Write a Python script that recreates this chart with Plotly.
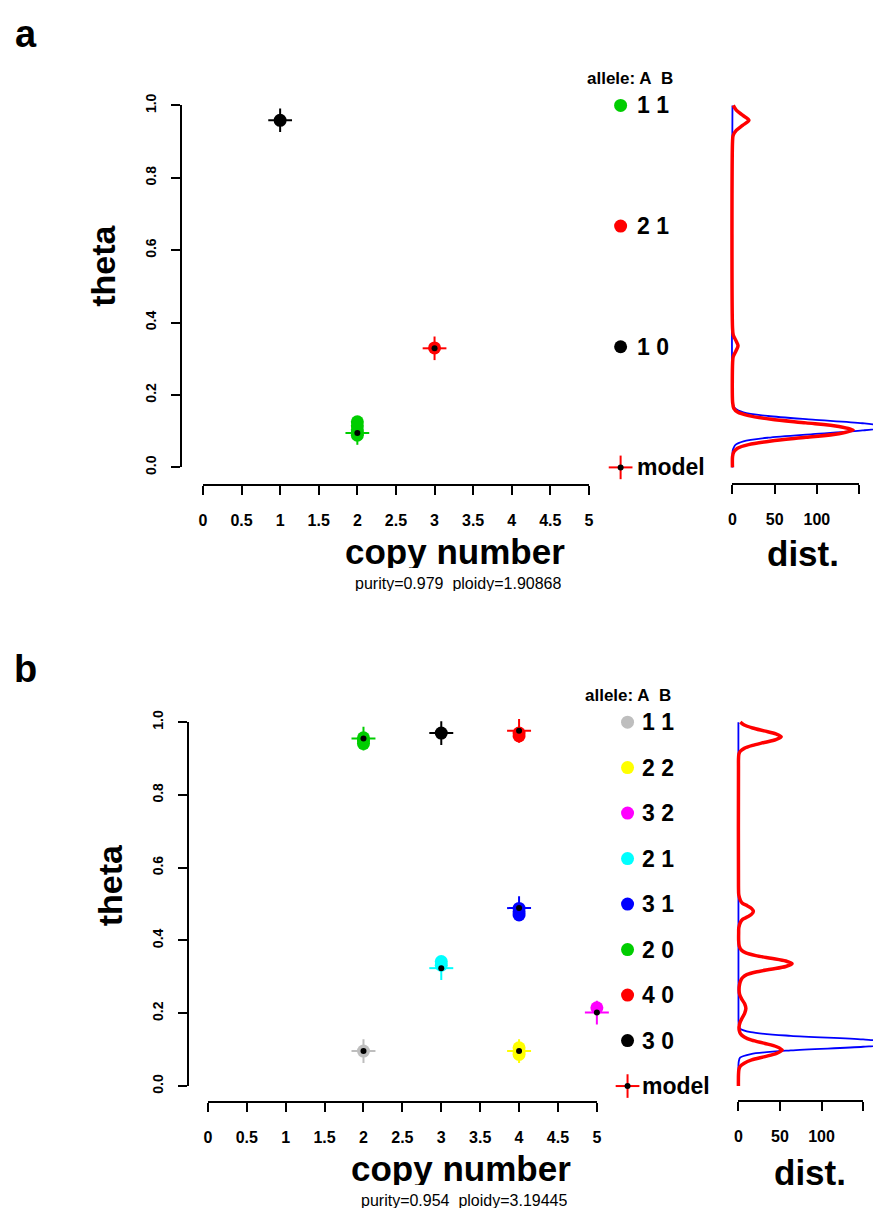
import numpy as np
import plotly.graph_objects as go

W, H = 878, 1217
FONT = "Liberation Sans, Arial, Helvetica, sans-serif"

# ---------------- shared tick labels ----------------
cn_ticks = [0, 0.5, 1, 1.5, 2, 2.5, 3, 3.5, 4, 4.5, 5]
cn_ticktext = ["0", "0.5", "1", "1.5", "2", "2.5", "3", "3.5", "4", "4.5", "5"]
theta_ticks = [0, 0.2, 0.4, 0.6, 0.8, 1.0]
theta_ticktext = ["0.0", "0.2", "0.4", "0.6", "0.8", "1.0"]
dist_ticks = [0, 50, 100, 150]
dist_ticktext = ["0", "50", "100", ""]

# ---------------- panel a data ----------------
a_alleles = ["1 1", "2 1", "1 0"]
a_colors = ["#00CD00", "#FF0000", "#000000"]
a_obs_cn = [2, 3, 1]
a_obs_theta = [[0.126, 0.115, 0.104, 0.095, 0.089], [0.330], [0.959]]
a_model_cn = [2, 3, 1]
a_model_theta = [0.095, 0.329, 0.959]
a_purity = "0.979"
a_ploidy = "1.90868"

a_obs_dist_theta = [0.000, 0.030, 0.043, 0.053, 0.063, 0.073, 0.083, 0.093, 0.103, 0.113,
                    0.123, 0.133, 0.143, 0.153, 0.163, 0.180, 0.290, 0.306, 0.321, 0.336,
                    0.351, 0.366, 0.385, 0.900, 0.917, 0.931, 0.945, 0.959, 0.973, 0.987, 1.000]
a_obs_dist_val = [0, 0.1, 1.6, 6, 19, 46, 87, 126, 143, 126,
                  87, 46, 19, 6, 1.6, 0.2, 0.2, 0.9, 4, 6.6,
                  4, 0.9, 0.1, 0.1, 0.8, 4.5, 12, 19.5, 12, 4.5, 0.9]
a_mod_dist_theta = [0.000, 0.045, 0.052, 0.062, 0.072, 0.082, 0.092, 0.102, 0.112, 0.122,
                    0.132, 0.142, 0.152, 0.162, 0.172, 0.190, 1.000]
a_mod_dist_val = [0, 0.2, 1, 3.5, 13, 42, 95, 154, 185, 154,
                  95, 42, 13, 3.5, 1, 0.1, 0]

# ---------------- panel b data ----------------
b_alleles = ["1 1", "2 2", "3 2", "2 1", "3 1", "2 0", "4 0", "3 0"]
b_colors = ["#BEBEBE", "#FFFF00", "#FF00FF", "#00FFFF", "#0000FF", "#00CD00", "#FF0000", "#000000"]
b_obs_cn = [2, 4, 5, 3, 4, 2, 4, 3]
b_obs_theta = [[0.096], [0.105, 0.095, 0.087], [0.215], [0.342, 0.332],
               [0.488, 0.479, 0.470], [0.957, 0.948, 0.941], [0.970, 0.962], [0.970]]
b_model_cn = [2, 4, 5, 3, 4, 2, 4, 3]
b_model_theta = [0.096, 0.096, 0.202, 0.324, 0.489, 0.955, 0.976, 0.970]
b_purity = "0.954"
b_ploidy = "3.19445"

b_obs_dist_theta = [0.000, 0.030, 0.045, 0.054, 0.063, 0.072, 0.081, 0.090, 0.099, 0.108,
                    0.117, 0.126, 0.135, 0.144, 0.153, 0.163, 0.175, 0.187, 0.200, 0.213,
                    0.226, 0.239, 0.252, 0.265, 0.280, 0.291, 0.298, 0.306, 0.3135, 0.321,
                    0.3285, 0.336, 0.3435, 0.351, 0.3585, 0.366, 0.374, 0.385, 0.400, 0.420,
                    0.435, 0.450, 0.458, 0.465, 0.4725, 0.480, 0.4875, 0.495, 0.502, 0.510,
                    0.525, 0.550, 0.880, 0.896, 0.912, 0.920, 0.928, 0.936, 0.944, 0.952,
                    0.960, 0.968, 0.976, 0.984, 0.992, 1.000]
b_obs_dist_val = [0, 0.1, 0.6, 2, 7, 16, 32, 46, 52.7, 46,
                  32, 16, 7, 2.5, 1, 0.8, 2, 4.5, 7.5, 9,
                  7.5, 4, 1.5, 0.8, 1.5, 3, 5, 10, 21, 39,
                  57, 64.6, 57, 39, 21, 9, 3.5, 1, 0.3, 0.3,
                  0.5, 2.5, 5, 11, 16, 18, 16, 11, 5, 2.5,
                  0.5, 0.1, 0.1, 0.1, 0.6, 2.3, 7, 17, 31, 45,
                  51.5, 45, 31, 17, 7, 2.3]
b_mod_dist_theta = [0.000, 0.060, 0.068, 0.078, 0.088, 0.098, 0.108, 0.118, 0.128, 0.138,
                    0.148, 0.158, 0.168, 0.180, 1.000]
b_mod_dist_val = [0, 0.1, 0.5, 2, 15, 63, 150, 200, 150, 63,
                  15, 2, 0.5, 0.1, 0]

# model error-bar half-widths (copy number, theta)
model_dcn = 0.154
model_dtheta = 0.0326

BOLD = dict(family=FONT, color="black", weight="bold")


def px_x(p):
    return p / W


def px_y(p):
    return 1 - p / H


def rng(p_lo, p_hi, v_lo, v_hi, q_lo, q_hi):
    s = (v_hi - v_lo) / (p_hi - p_lo)
    return [v_lo + (q_lo - p_lo) * s, v_lo + (q_hi - p_lo) * s]


fig = go.Figure()
annotations = []
layout_axes = {}


def tick_axis(**kw):
    d = dict(showline=True, linecolor="black", linewidth=1.8, ticks="outside",
             ticklen=9, tickwidth=1.8, tickcolor="black", showgrid=False,
             zeroline=False, anchor="free", fixedrange=True)
    d.update(kw)
    return d


def hidden_axis(**kw):
    d = dict(visible=False, showgrid=False, zeroline=False, fixedrange=True)
    d.update(kw)
    return d


def ann(x, y, text, font, xref="paper", yref="paper", xanchor="center", **kw):
    d = dict(x=x, y=y, xref=xref, yref=yref, text=text, showarrow=False,
             xanchor=xanchor, yanchor="middle", font=font)
    d.update(kw)
    annotations.append(d)


# pixel overlay axes (shared by both legends)
PX, PY = "x9", "y5"
layout_axes["xaxis9"] = hidden_axis(domain=[0, 1], range=[0, W], anchor="y5")
layout_axes["yaxis5"] = hidden_axis(domain=[0, 1], range=[H, 0], anchor="x9")


def panel(g, ax, alleles, colors, obs_cn, obs_theta, mod_cn, mod_theta,
          od_t, od_v, md_t, md_v, purity, ploidy):
    xd, yd, xdist, xt, yt, xdt = ax
    L, R = g["x_px"]          # pixel of copy number 0 and 5
    T, B = g["y_px"]          # pixel of theta 1 and 0
    D0, D1 = g["d_px"]        # pixel of dist 0 and 150
    # ---- axes
    qx = (L - 22, R + 22)
    qy = (T - 22, B + 22)
    layout_axes["xaxis" + xd[1:]] = hidden_axis(
        domain=[px_x(qx[0]), px_x(qx[1])], range=rng(L, R, 0, 5, qx[0], qx[1]), anchor=yd)
    layout_axes["yaxis" + yd[1:]] = hidden_axis(
        domain=[px_y(qy[1]), px_y(qy[0])], range=rng(B, T, 0, 1, qy[1], qy[0]), anchor=xd)
    qd = (D0 - 16, W)
    layout_axes["xaxis" + xdist[1:]] = hidden_axis(
        domain=[px_x(qd[0]), px_x(qd[1])], range=rng(D0, D1, 0, 150, qd[0], qd[1]), anchor=yd)
    layout_axes["xaxis" + xt[1:]] = tick_axis(
        domain=[px_x(L), px_x(R)], range=[0, 5], position=px_y(g["xline"]),
        tickvals=cn_ticks, ticktext=cn_ticktext, tickfont=dict(BOLD, size=16),
        ticklabelstandoff=12)
    layout_axes["yaxis" + yt[1:]] = tick_axis(
        domain=[px_y(B), px_y(T)], range=[0, 1], position=px_x(g["yline"]),
        tickvals=theta_ticks, ticktext=theta_ticktext, tickfont=dict(BOLD, size=14),
        tickangle=-90, ticklabelstandoff=10)
    layout_axes["xaxis" + xdt[1:]] = tick_axis(
        domain=[px_x(D0), px_x(D1)], range=[0, 150], position=px_y(g["dline"]),
        tickvals=dist_ticks, ticktext=dist_ticktext, tickfont=dict(BOLD, size=16),
        ticklabelstandoff=12)
    # empty traces so the tick axes get drawn
    fig.add_trace(go.Scatter(x=[], y=[], xaxis=xt, yaxis=yt, showlegend=False))
    fig.add_trace(go.Scatter(x=[], y=[], xaxis=xdt, yaxis=yt, showlegend=False))

    # ---- density curves
    fig.add_trace(go.Scatter(x=md_v, y=md_t, mode="lines", xaxis=xdist, yaxis=yd,
                             line=dict(color="#0000FF", width=1.8, shape="spline", smoothing=0.8),
                             showlegend=False, hoverinfo="skip"))
    fig.add_trace(go.Scatter(x=od_v, y=od_t, mode="lines", xaxis=xdist, yaxis=yd,
                             line=dict(color="#FF0000", width=3.5, shape="spline", smoothing=0.8),
                             showlegend=False, hoverinfo="skip"))
    # ---- observed points
    for cn, th, col in zip(obs_cn, obs_theta, colors):
        fig.add_trace(go.Scatter(x=[cn] * len(th), y=th, mode="markers", xaxis=xd, yaxis=yd,
                                 marker=dict(color=col, size=13, line=dict(width=0)),
                                 showlegend=False))
    # ---- model crosses
    for cn, th, col in zip(mod_cn, mod_theta, colors):
        fig.add_trace(go.Scatter(x=[cn], y=[th], mode="markers", xaxis=xd, yaxis=yd,
                                 marker=dict(color="black", size=6),
                                 error_x=dict(type="constant", value=model_dcn, color=col,
                                              thickness=2, width=0),
                                 error_y=dict(type="constant", value=model_dtheta, color=col,
                                              thickness=2, width=0),
                                 showlegend=False))
    # ---- legend (drawn in pixel overlay axes, rows aligned with theta grid)
    n = len(alleles) + 1
    rows = [T + (1 - p) * (B - T) for p in np.linspace(1, 0, n)]
    lx = g["leg_x"]
    fig.add_trace(go.Scatter(x=[lx] * len(alleles), y=rows[:-1], mode="markers",
                             xaxis=PX, yaxis=PY,
                             marker=dict(color=colors, size=13, line=dict(width=0)),
                             showlegend=False))
    fig.add_trace(go.Scatter(x=[lx], y=[rows[-1]], mode="markers", xaxis=PX, yaxis=PY,
                             marker=dict(color="black", size=6),
                             error_x=dict(type="constant", value=12, color="#FF0000",
                                          thickness=2, width=0),
                             error_y=dict(type="constant", value=12, color="#FF0000",
                                          thickness=2, width=0),
                             showlegend=False))
    for lab, yy in zip(alleles + ["model"], rows):
        ann(g["leg_tx"], yy, lab, dict(BOLD, size=23), xref=PX, yref=PY, xanchor="left")
    ann(px_x(g["hdr"][0]), px_y(g["hdr"][1]), "allele: A\u00a0 B", dict(BOLD, size=17))
    # ---- titles
    ann(px_x(g["letter"][0]), px_y(g["letter"][1]), g["name"], dict(BOLD, size=38))
    ann(px_x(g["ylab"][0]), px_y(g["ylab"][1]), "theta", dict(BOLD, size=34), textangle=-90)
    ann(px_x(g["xlab"][0]), px_y(g["xlab"][1]), "copy number", dict(BOLD, size=35),
        height=34, valign="middle")
    ann(px_x(g["sub"][0]), px_y(g["sub"][1]), f"purity={purity}\u00a0 ploidy={ploidy}",
        dict(family=FONT, color="black", size=16), height=16, valign="middle")
    ann(px_x(g["dlab"][0]), px_y(g["dlab"][1]), "dist.", dict(BOLD, size=35),
        height=34, valign="middle")


geo_a = dict(name="a", x_px=(201, 591), y_px=(95, 463), d_px=(736, 864),
             xline=481, yline=179, dline=480,
             leg_x=623, leg_tx=638, hdr=(632, 68), letter=(22, 22), ylab=(100, 258),
             xlab=(456, 548), sub=(459, 581), dlab=(807, 550))
geo_b = dict(name="b", x_px=(206, 599), y_px=(722, 1092), d_px=(742, 868),
             xline=1108, yline=186, dline=1107,
             leg_x=630, leg_tx=643, hdr=(630, 695), letter=(22, 668), ylab=(108, 888),
             xlab=(462, 1175), sub=(465, 1208), dlab=(814, 1179))

panel(geo_a, ("x", "y", "x2", "x3", "y3", "x4"), a_alleles, a_colors, a_obs_cn, a_obs_theta,
      a_model_cn, a_model_theta, a_obs_dist_theta, a_obs_dist_val,
      a_mod_dist_theta, a_mod_dist_val, a_purity, a_ploidy)
panel(geo_b, ("x5", "y2", "x6", "x7", "y4", "x8"), b_alleles, b_colors, b_obs_cn, b_obs_theta,
      b_model_cn, b_model_theta, b_obs_dist_theta, b_obs_dist_val,
      b_mod_dist_theta, b_mod_dist_val, b_purity, b_ploidy)

fig.update_layout(
    width=W, height=H, margin=dict(l=0, r=0, t=0, b=0),
    paper_bgcolor="white", plot_bgcolor="rgba(0,0,0,0)",
    showlegend=False, annotations=annotations, hovermode=False,
    **layout_axes,
)

fig.write_html("out.html")
